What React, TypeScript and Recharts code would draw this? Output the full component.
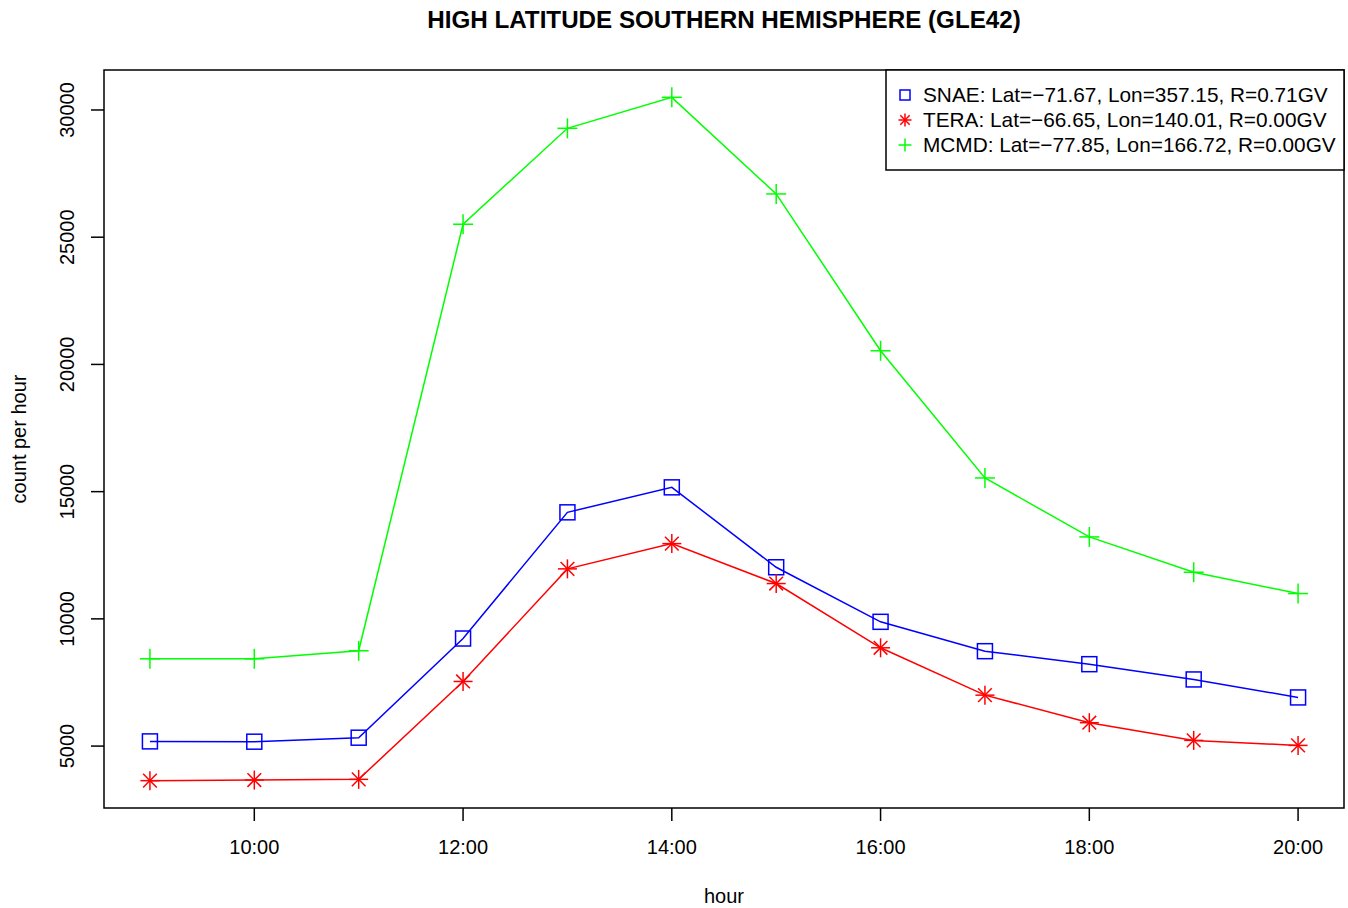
import React from "react";
import { LineChart, Line, XAxis, YAxis, ReferenceArea } from "recharts";

const hours = [9, 10, 11, 12, 13, 14, 15, 16, 17, 18, 19, 20];
const snae = [5185, 5173, 5330, 9228, 14187, 15169, 12028, 9884, 8730, 8219, 7619, 6912];
const tera = [3641, 3665, 3693, 7540, 11965, 12958, 11388, 8863, 7002, 5919, 5224, 5027];
const mcmd = [8431, 8431, 8746, 25510, 29280, 30497, 26700, 20536, 15538, 13221, 11832, 10995];

const xTicks = [10, 12, 14, 16, 18, 20];
const yTicks = [5000, 10000, 15000, 20000, 25000, 30000];

const seriesNames = [
  "SNAE: Lat=\u221271.67, Lon=357.15, R=0.71GV",
  "TERA: Lat=\u221266.65, Lon=140.01, R=0.00GV",
  "MCMD: Lat=\u221277.85, Lon=166.72, R=0.00GV",
];

const data = hours.map((h, i) => ({ hour: h, snae: snae[i], tera: tera[i], mcmd: mcmd[i] }));

const xMin = 9 - 0.04 * 11;
const xMax = 20 + 0.04 * 11;
const allY = [...snae, ...tera, ...mcmd];
const yLo = Math.min(...allY);
const yHi = Math.max(...allY);
const yMin = yLo - 0.04 * (yHi - yLo);
const yMax = yHi + 0.04 * (yHi - yLo);

const FONT = "'Liberation Sans', Arial, Helvetica, sans-serif";
const BLUE = "#0000FF";
const RED = "#FF0000";
const GREEN = "#00FF00";

const Square = (s: number) => (props: any) => {
  const { cx, cy } = props;
  if (cx == null || cy == null) return null;
  return <rect x={cx - s / 2} y={cy - s / 2} width={s} height={s} fill="none" stroke={BLUE} strokeWidth={1.5} />;
};

const Asterisk = (r: number) => (props: any) => {
  const { cx, cy } = props;
  if (cx == null || cy == null) return null;
  const d = r * 0.72;
  return (
    <g stroke={RED} strokeWidth={1.5}>
      <line x1={cx - r} y1={cy} x2={cx + r} y2={cy} />
      <line x1={cx} y1={cy - r} x2={cx} y2={cy + r} />
      <line x1={cx - d} y1={cy - d} x2={cx + d} y2={cy + d} />
      <line x1={cx - d} y1={cy + d} x2={cx + d} y2={cy - d} />
    </g>
  );
};

const Plus = (r: number) => (props: any) => {
  const { cx, cy } = props;
  if (cx == null || cy == null) return null;
  return (
    <g stroke={GREEN} strokeWidth={1.5}>
      <line x1={cx - r} y1={cy} x2={cx + r} y2={cy} />
      <line x1={cx} y1={cy - r} x2={cx} y2={cy + r} />
    </g>
  );
};

const XTick = (props: any) => {
  const { x, payload } = props;
  return (
    <text x={x} y={854} textAnchor="middle" fontSize={20} fontFamily={FONT} fill="#000">
      {`${payload.value}:00`}
    </text>
  );
};

const YTick = (props: any) => {
  const { y, payload } = props;
  return (
    <text transform={`translate(74, ${y}) rotate(-90)`} textAnchor="middle" fontSize={20} fontFamily={FONT} fill="#000">
      {payload.value}
    </text>
  );
};

const legendMarkers = [
  (cx: number, cy: number) => Square(10)({ cx, cy }),
  (cx: number, cy: number) => Asterisk(6.5)({ cx, cy }),
  (cx: number, cy: number) => Plus(6.5)({ cx, cy }),
];

export default function App() {
  return (
    <div style={{ position: "absolute", left: 0, top: 0, width: 1348, height: 908, background: "#fff" }}>
      <LineChart
        width={1348}
        height={908}
        data={data}
        margin={{ top: 70, right: 4, bottom: 0, left: 0 }}
      >
        <XAxis
          dataKey="hour"
          type="number"
          domain={[xMin, xMax]}
          ticks={xTicks}
          interval={0}
          allowDataOverflow
          height={100}
          tickSize={13}
          axisLine={false}
          tickLine={{ stroke: "#000", strokeWidth: 1.5 }}
          tick={<XTick />}
        />
        <YAxis
          type="number"
          domain={[yMin, yMax]}
          ticks={yTicks}
          interval={0}
          allowDataOverflow
          width={104}
          tickSize={13}
          axisLine={false}
          tickLine={{ stroke: "#000", strokeWidth: 1.5 }}
          tick={<YTick />}
        />
        <ReferenceArea
          x1={xMin}
          x2={xMax}
          y1={yMin}
          y2={yMax}
          fill="none"
          fillOpacity={0}
          stroke="#000"
          strokeWidth={1.5}
          strokeOpacity={1}
          ifOverflow="visible"
        />
        <Line dataKey="snae" stroke={BLUE} strokeWidth={1.5} dot={Square(15)} activeDot={false} isAnimationActive={false} />
        <Line dataKey="tera" stroke={RED} strokeWidth={1.5} dot={Asterisk(9.5)} activeDot={false} isAnimationActive={false} />
        <Line dataKey="mcmd" stroke={GREEN} strokeWidth={1.5} dot={Plus(10)} activeDot={false} isAnimationActive={false} />
      </LineChart>
      <svg
        width={1348}
        height={908}
        style={{ position: "absolute", left: 0, top: 0, pointerEvents: "none" }}
      >
        <text x={724} y={28} textAnchor="middle" fontSize={24.2} fontWeight="bold" fontFamily={FONT} fill="#000">
          HIGH LATITUDE SOUTHERN HEMISPHERE (GLE42)
        </text>
        <text x={724} y={903} textAnchor="middle" fontSize={20} fontFamily={FONT} fill="#000">
          hour
        </text>
        <text transform="translate(26, 439) rotate(-90)" textAnchor="middle" fontSize={20} fontFamily={FONT} fill="#000">
          count per hour
        </text>
        <rect x={886} y={70} width={458} height={100} fill="#fff" stroke="#000" strokeWidth={1.5} />
        {seriesNames.map((name, i) => (
          <g key={name}>
            {legendMarkers[i](905, 95 + i * 25)}
            <text x={923} y={102 + i * 25} fontSize={20.8} fontFamily={FONT} fill="#000">
              {name}
            </text>
          </g>
        ))}
      </svg>
    </div>
  );
}
